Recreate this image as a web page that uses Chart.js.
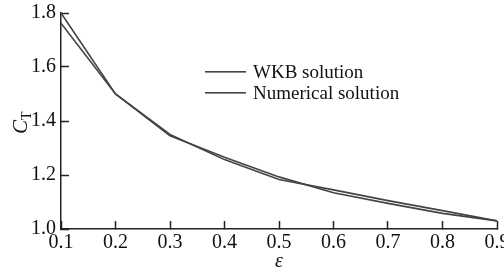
<!DOCTYPE html>
<html lang="en">
<head>
    <meta charset="UTF-8">
    <title>CT vs epsilon</title>
    <style>
        html, body {
            margin: 0;
            padding: 0;
            background: #fff;
        }
        #wrap {
            width: 504px;
            height: 274px;
        }
    </style>
</head>
<body>
    <div id="wrap"><canvas id="ctChart" width="504" height="274"></canvas></div>
    <script src="https://cdn.jsdelivr.net/npm/chart.js"></script>
    <script>
        // data
        const epsilon = [0.1, 0.2, 0.3, 0.4, 0.5, 0.6, 0.7, 0.8, 0.9];
        const wkb = [1.80, 1.50, 1.35, 1.257, 1.183, 1.145, 1.105, 1.068, 1.03];
        const numerical = [1.762, 1.50, 1.345, 1.266, 1.193, 1.134, 1.095, 1.058, 1.03];
        const seriesNames = ['WKB solution', 'Numerical solution'];
        const xTicks = [0.1, 0.2, 0.3, 0.4, 0.5, 0.6, 0.7, 0.8, 0.9];
        const yTicks = [1.0, 1.2, 1.4, 1.6, 1.8];

        const serif = '"Liberation Serif", "DejaVu Serif", serif';
        const lineColor = '#444';
        const axisColor = '#222';
        const textColor = '#111';

        const toPoints = (xs, ys) => xs.map((x, i) => ({ x: x, y: ys[i] }));

        // axis titles and the in-plot legend
        const decorations = {
            id: 'decorations',
            afterDraw(chart) {
                const c = chart.ctx;
                const area = chart.chartArea;
                c.save();

                // y title: italic C with subscript T, rotated
                c.fillStyle = textColor;
                c.translate(27, 124);
                c.rotate(-Math.PI / 2);
                c.textBaseline = 'alphabetic';
                c.textAlign = 'left';
                c.font = 'italic 21px ' + serif;
                c.fillText('C', -10, 0);
                c.font = '14px ' + serif;
                c.fillText('T', 4, 4);
                c.setTransform(1, 0, 0, 1, 0, 0);

                // x title
                c.font = 'italic 20px ' + serif;
                c.textAlign = 'center';
                c.textBaseline = 'middle';
                c.fillText('\u03b5', (area.left + area.right) / 2, 262);

                // legend
                c.textAlign = 'left';
                const rows = [72, 93];
                chart.data.datasets.forEach((ds, i) => {
                    c.fillStyle = lineColor;
                    c.fillRect(205, rows[i] - 1, 41, 1.6);
                    c.font = '19px ' + serif;
                    c.fillStyle = textColor;
                    c.fillText(ds.label, 253, rows[i] + 1);
                });
                c.restore();
            }
        };

        // tick marks point into the plot (negative tick length)
        const inwardGrid = {
            drawOnChartArea: false,
            drawTicks: true,
            tickLength: -8,
            tickColor: axisColor,
            tickWidth: 1.5,
            color: axisColor
        };

        new Chart(document.getElementById('ctChart'), {
            type: 'line',
            data: {
                datasets: [
                    {
                        label: seriesNames[0],
                        data: toPoints(epsilon, wkb),
                        borderColor: lineColor,
                        borderWidth: 1.6,
                        pointRadius: 0,
                        tension: 0,
                        fill: false
                    },
                    {
                        label: seriesNames[1],
                        data: toPoints(epsilon, numerical),
                        borderColor: lineColor,
                        borderWidth: 1.6,
                        pointRadius: 0,
                        tension: 0,
                        fill: false
                    }
                ]
            },
            options: {
                responsive: false,
                animation: false,
                layout: {
                    padding: { top: 13, right: 7, left: 0, bottom: 0 }
                },
                plugins: {
                    legend: { display: false },
                    tooltip: { enabled: false }
                },
                scales: {
                    x: {
                        type: 'linear',
                        min: 0.1,
                        max: 0.9,
                        afterBuildTicks(scale) {
                            scale.ticks = xTicks.map(v => ({ value: v }));
                        },
                        ticks: {
                            padding: 10,
                            color: textColor,
                            font: { family: serif, size: 20 },
                            maxRotation: 0,
                            autoSkip: false,
                            callback: v => v.toFixed(1)
                        },
                        grid: inwardGrid,
                        border: { color: axisColor, width: 1.5 },
                        afterFit(scale) {
                            scale.height = 45;
                            scale.paddingLeft = 0;
                            scale.paddingRight = 0;
                        }
                    },
                    y: {
                        min: 1.0,
                        max: 1.8,
                        afterBuildTicks(scale) {
                            scale.ticks = yTicks.map(v => ({ value: v }));
                        },
                        ticks: {
                            padding: 13,
                            color: textColor,
                            font: { family: serif, size: 20 },
                            callback: v => v.toFixed(1)
                        },
                        grid: inwardGrid,
                        border: { color: axisColor, width: 1.5 },
                        afterFit(scale) {
                            scale.width = 61;
                            scale.paddingTop = 0;
                            scale.paddingBottom = 0;
                        }
                    }
                }
            },
            plugins: [decorations]
        });
    </script>
</body>
</html>
